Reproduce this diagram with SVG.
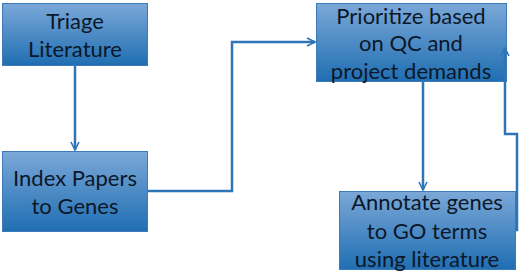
<svg xmlns="http://www.w3.org/2000/svg" width="520" height="275" viewBox="0 0 520 275">
<defs>
<linearGradient id="g" x1="0" y1="0" x2="0" y2="1">
<stop offset="0" stop-color="#7ba8d8"/>
<stop offset="1" stop-color="#1f6eb2"/>
</linearGradient>
<marker id="arr" viewBox="0 0 10 10" refX="9" refY="5" markerWidth="10" markerHeight="10" markerUnits="userSpaceOnUse" orient="auto">
<path d="M1,1 L9,5 L1,9" fill="none" stroke="#2e75b6" stroke-width="1.6"/>
</marker>
</defs>
<style>
.box{fill:url(#g);stroke:#3c7ab8;stroke-width:1}
.t{font-family:Lato,"Liberation Sans",sans-serif;font-size:22px;fill:#0c1729;text-anchor:middle}
.c{fill:none;stroke:#2e75b6;stroke-width:2.5;marker-end:url(#arr)}
</style>
<rect width="520" height="275" fill="#ffffff"/>
<g id="n1">
<rect class="box" x="2.5" y="3.5" width="145" height="62"/>
<text class="t" x="75" y="29">Triage</text>
<text class="t" x="75" y="57">Literature</text>
</g>
<g id="n2">
<rect class="box" x="2.5" y="151.5" width="145" height="80"/>
<text class="t" x="75" y="186">Index Papers</text>
<text class="t" x="75" y="214">to Genes</text>
</g>
<g id="n3">
<rect class="box" x="316.5" y="3.5" width="190" height="78"/>
<text class="t" x="411" y="24">Prioritize based</text>
<text class="t" x="411" y="51">on QC and</text>
<text class="t" x="411" y="79">project demands</text>
</g>
<g id="n4">
<rect class="box" x="339.5" y="191.5" width="176" height="78"/>
<text class="t" x="427" y="210">Annotate genes</text>
<text class="t" x="427" y="239">to GO terms</text>
<text class="t" x="427" y="267">using literature</text>
</g>
<g id="connectors">
<path class="c" d="M75,66 L75,150"/>
<path class="c" d="M148,191 L232,191 L232,42 L315,42"/>
<path class="c" d="M423,82 L423,190"/>
<path class="c" d="M515,230 L517,230 L517,134 L505,134 L505,48"/>
</g>
</svg>
